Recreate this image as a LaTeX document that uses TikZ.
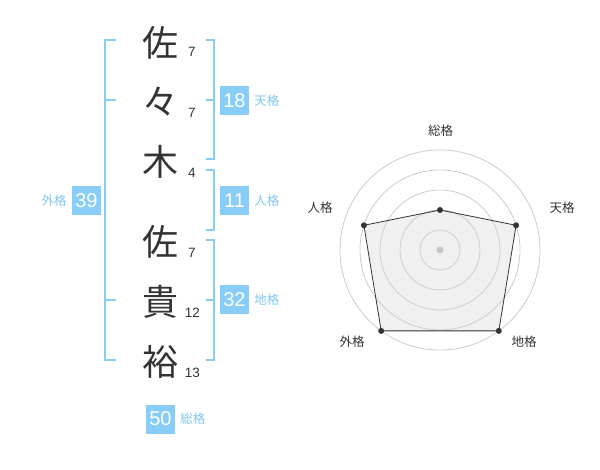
\documentclass[tikz,border=0pt]{standalone}
\usepackage{fontspec}
\setmainfont{Noto Sans CJK JP}
\newfontfamily\cifras{Liberation Sans}
\usetikzlibrary{positioning}
\definecolor{celeste}{HTML}{88CDF8}
\definecolor{celestetxt}{HTML}{80C6F2}
\definecolor{tinta}{HTML}{333333}
\definecolor{rejilla}{HTML}{CCCCCC}
\definecolor{relleno}{HTML}{F0F0F0}

\begin{document}
\begin{tikzpicture}[x=1pt, y=-1pt,
    kanji/.style={text=tinta, font=\fontsize{36}{36}\selectfont, inner sep=0pt},
    trazos/.style={text=tinta, font=\cifras\fontsize{13.5}{13.5}\selectfont, inner sep=0pt},
    caja/.style={fill=celeste, minimum size=29pt, inner sep=0pt,
        text=white, font=\cifras\fontsize{20}{20}\selectfont},
    kaku/.style={text=celestetxt, font=\fontsize{12.5}{12.5}\selectfont, inner sep=0pt},
    eje/.style={text=tinta, font=\fontsize{12.5}{12.5}\selectfont, inner sep=0pt},
    corchete/.style={draw=celeste, line width=2pt},
    circulo/.style={draw=rejilla, line width=0.8pt},
    punto/.style={circle, fill=tinta, inner sep=0pt, minimum size=6pt}
    ]
    \useasboundingbox (0,0) rectangle (600,470);
    % nombre
    \node[kanji] (k1) at (160,43) {佐};
    \node[kanji] (k2) at (160,102) {々};
    \node[kanji] (k3) at (160,162) {木};
    \node[kanji] (k4) at (160,242) {佐};
    \node[kanji] (k5) at (160,302) {貴};
    \node[kanji] (k6) at (160,362) {裕};
    \node[trazos] (t1) at (192,52) {7};
    \node[trazos] (t2) at (192,113) {7};
    \node[trazos] (t3) at (192,173) {4};
    \node[trazos] (t4) at (192,253) {7};
    \node[trazos] (t5) at (192.5,313) {12};
    \node[trazos] (t6) at (192.5,373) {13};
    % corchetes
    \draw[corchete] (206,40) -- (214,40) -- (214,159) -- (206,159);
    \draw[corchete] (206,100) -- (214,100);
    \draw[corchete] (206,170) -- (214,170) -- (214,230) -- (206,230);
    \draw[corchete] (206,240) -- (214,240) -- (214,360) -- (206,360);
    \draw[corchete] (206,300) -- (214,300);
    \draw[corchete] (116,40) -- (105,40) -- (105,360) -- (116,360);
    \draw[corchete] (105,100) -- (116,100);
    \draw[corchete] (105,300) -- (116,300);
    % cajas
    \node[caja] (ten) at (234.5,100.5) {18};
    \node[kaku, right=5pt of ten] {天格};
    \node[caja] (jin) at (234.5,200.5) {11};
    \node[kaku, right=5pt of jin] {人格};
    \node[caja] (chi) at (234.5,300) {32};
    \node[kaku, right=5pt of chi] {地格};
    \node[caja] (gai) at (86.5,200.5) {39};
    \node[kaku, left=5pt of gai] {外格};
    \node[caja] (sou) at (160.5,419) {50};
    \node[kaku, right=5pt of sou] {総格};
    % radar
    \coordinate (c) at (440,250);
    \coordinate (rS) at (440,210);
    \coordinate (rT) at (516.1,225.3);
    \coordinate (rC) at (498.8,330.9);
    \coordinate (rG) at (381.2,330.9);
    \coordinate (rJ) at (363.9,225.3);
    \fill[relleno] (rS) -- (rT) -- (rC) -- (rG) -- (rJ) -- cycle;
    \foreach \r in {20,40,60,80,100}
        \draw[circulo] (c) circle (\r pt);
    \draw[draw=tinta, line width=0.8pt]
        (rS) -- (rT) -- (rC) -- (rG) -- (rJ) -- cycle;
    \fill[black!22] (c) circle (3.5pt);
    \foreach \p in {rS,rT,rC,rG,rJ}
        \node[punto] at (\p) {};
    \node[eje] at (440.7,130.7) {総格};
    \node[eje] at (562,208) {天格};
    \node[eje] at (320,208) {人格};
    \node[eje] at (352,342) {外格};
    \node[eje] at (524,342) {地格};
\end{tikzpicture}
\end{document}
